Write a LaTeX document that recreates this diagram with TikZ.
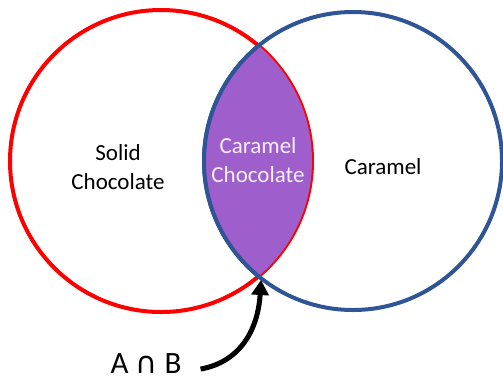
\documentclass[tikz,border=0pt]{standalone}
\usepackage{fontspec}
\setmainfont{Carlito}
\newfontfamily\symfont{DejaVu Sans}
\usetikzlibrary{arrows.meta}
\definecolor{setred}{HTML}{FF0000}
\definecolor{setblue}{HTML}{2F5597}
\definecolor{lens}{HTML}{9E5FCC}
\definecolor{lenstext}{HTML}{F6EEFF}
\tikzset{
  lbl/.style={font=\fontsize{23}{29}\selectfont, align=center, inner sep=0pt},
  ring/.style={line width=4pt}
}
\begin{document}
\begin{tikzpicture}[x=1pt,y=-1pt]
\useasboundingbox (0,0) rectangle (503,381);
\coordinate (ca) at (161,161);
\coordinate (cb) at (353,161);
\draw[ring, setred] (ca) circle[radius=151];
\draw[ring, setblue] (cb) circle[radius=149];
\begin{scope}
  \clip (ca) circle[radius=151];
  \fill[lens] (cb) circle[radius=149];
\end{scope}
\begin{scope}
  \clip (ca) circle[radius=153];
  \draw[ring, setblue] (cb) circle[radius=149];
\end{scope}
\node[lbl] (solid) at (118,167) {Solid\\Chocolate};
\node[lbl, text=lenstext] (both) at (258,160) {Caramel\\Chocolate};
\node[lbl] (caramel) at (383,167) {Caramel};
\node[font=\fontsize{31}{36}\selectfont, inner sep=0pt, anchor=base] (ab) at (146,373) {A {\symfont\fontsize{30}{34}\selectfont ∩} B};
\coordinate (meet) at (261,280);
\draw[line width=5pt, -{Triangle[width=17pt,length=15pt]}] ([xshift=19pt,yshift=-6pt]ab.east) .. controls (240,362) and (258,330) .. (meet);
\end{tikzpicture}
\end{document}
